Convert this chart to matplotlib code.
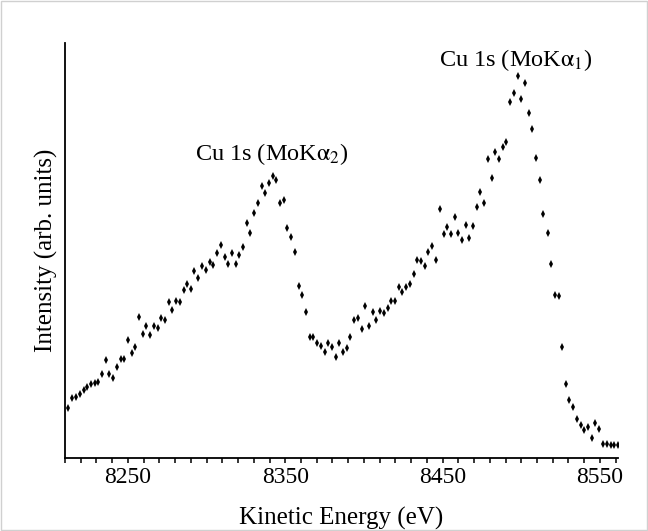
import matplotlib
matplotlib.use("Agg")
import matplotlib.pyplot as plt
import matplotlib.patches as patches
from matplotlib.ticker import MultipleLocator

# Kinetic energy (eV)
energie = [
    8212.1, 8214.6, 8217.0, 8219.5, 8221.9, 8224.2, 8226.5, 8228.9, 8231.1, 8233.5,
    8235.8, 8238.1, 8240.7, 8243.0, 8245.4, 8247.7, 8250.0, 8252.3, 8254.6, 8257.0,
    8259.3, 8261.6, 8264.2, 8266.5, 8268.9, 8271.1, 8273.5, 8275.8, 8278.1, 8280.7,
    8283.0, 8285.4, 8287.7, 8290.0, 8292.3, 8294.6, 8297.0, 8299.5, 8301.9, 8304.2,
    8306.7, 8309.0, 8311.4, 8313.7, 8316.0, 8318.4, 8320.9, 8323.2, 8325.6, 8327.9,
    8330.2, 8332.7, 8335.1, 8337.4, 8339.7, 8342.1, 8344.4, 8346.7, 8349.0, 8351.4,
    8353.7, 8356.2, 8358.6, 8360.9, 8363.2, 8365.6, 8367.9, 8370.2, 8372.5, 8375.1,
    8377.4, 8379.7, 8382.1, 8384.4, 8386.7, 8389.0, 8391.4, 8393.9, 8396.2, 8398.6,
    8400.9, 8403.2, 8405.6, 8407.9, 8410.2, 8412.5, 8415.1, 8417.4, 8419.7, 8422.1,
    8424.4, 8426.7, 8429.0, 8431.6, 8433.9, 8436.2, 8438.6, 8440.9, 8443.5, 8445.7,
    8448.3, 8450.6, 8453.0, 8455.3, 8457.6, 8460.0, 8462.3, 8464.6, 8467.0, 8469.2,
    8471.8, 8474.1, 8476.5, 8478.8, 8481.1, 8483.5, 8485.7, 8488.3, 8490.6, 8493.0,
    8495.3, 8497.7, 8500.0, 8502.4, 8504.7, 8507.1, 8509.5, 8511.8, 8514.1, 8516.7,
    8519.0, 8521.3, 8523.7, 8526.0, 8528.3, 8530.6, 8533.0, 8535.5, 8537.8, 8540.2,
    8542.5, 8544.8, 8547.1, 8549.5, 8551.8, 8554.3, 8556.9, 8559.2, 8561.6,
]

# Intensity (arb. units)
intensite = [
    49.7, 59.7, 61.0, 64.0, 68.0, 70.7, 74.0, 75.3, 75.7, 84.0,
    98.0, 83.7, 80.3, 90.7, 99.0, 98.7, 117.7, 105.0, 111.0, 141.3,
    124.3, 131.7, 122.7, 131.7, 130.3, 140.3, 138.3, 155.7, 148.0, 157.0,
    156.0, 167.7, 174.3, 169.3, 186.7, 180.0, 192.0, 187.7, 195.7, 193.0,
    205.3, 213.3, 201.3, 194.3, 205.3, 194.3, 202.7, 211.3, 235.3, 225.3,
    245.0, 255.3, 272.0, 264.7, 274.7, 281.7, 277.7, 254.7, 258.3, 230.3,
    220.7, 206.0, 172.3, 163.0, 146.3, 121.3, 120.7, 115.0, 111.7, 105.7,
    115.0, 111.3, 101.3, 115.3, 106.3, 110.3, 120.7, 138.3, 139.7, 129.0,
    152.3, 132.3, 145.7, 138.0, 147.0, 144.7, 149.7, 157.0, 157.0, 171.0,
    166.0, 171.0, 174.3, 184.0, 198.0, 197.0, 191.7, 206.3, 212.3, 198.0,
    248.7, 223.7, 231.3, 223.7, 240.7, 225.3, 217.7, 232.7, 219.7, 232.0,
    251.3, 266.3, 254.7, 298.7, 279.7, 306.0, 299.0, 310.7, 316.0, 356.5,
    364.7, 382.3, 358.7, 375.5, 344.7, 329.0, 300.0, 278.3, 244.3, 225.3,
    194.0, 163.0, 162.0, 111.3, 74.3, 57.7, 51.0, 39.3, 33.0, 28.0,
    30.7, 20.3, 35.3, 29.0, 14.0, 13.7, 13.0, 13.0, 13.0,
]

ticks_x = [8250, 8350, 8450, 8550]

plt.rcParams['font.family'] = ['Liberation Serif', 'DejaVu Serif']
plt.rcParams['mathtext.fontset'] = 'stix'

fig = plt.figure(figsize=(6.48, 5.31), dpi=100)
ax = fig.add_axes([65 / 648, 73 / 531, 553 / 648, 415 / 531])

ax.plot(energie, intensite, 'd', color='black', markersize=3.8, markeredgewidth=0)

# Axes
ax.set_xlim(8210, 8561.5)
ax.set_ylim(0, 415)
ax.spines['top'].set_visible(False)
ax.spines['right'].set_visible(False)
ax.spines['left'].set_linewidth(1.3)
ax.spines['bottom'].set_linewidth(1.3)

ax.set_xticks(ticks_x)
ax.set_xticklabels([str(t) for t in ticks_x])
ax.xaxis.set_minor_locator(MultipleLocator(10))
ax.tick_params(axis='x', which='both', direction='out', length=3.8, width=1.1, labelsize=17, pad=3)
ax.set_yticks([])

ax.set_xlabel('Kinetic Energy (eV)', fontsize=18)
ax.xaxis.set_label_coords(0.5, -0.118)
ax.set_ylabel('Intensity (arb. units)', fontsize=18, labelpad=5)

# Annotations des pics
ax.text(8341.5, 304, r'Cu 1s (MoK$\mathrm{\alpha}_{2}$)', fontsize=17.5, ha='center', va='center')
ax.text(8496.5, 398, r'Cu 1s (MoK$\mathrm{\alpha}_{1}$)', fontsize=17.5, ha='center', va='center')

# Cadre gris autour de la figure
fig.patches.append(patches.Rectangle((0.001, 0.001), 0.998, 0.998, transform=fig.transFigure,
                                     fill=False, edgecolor='#d0d0d0', linewidth=1))

fig.savefig('out.png', dpi=100)
